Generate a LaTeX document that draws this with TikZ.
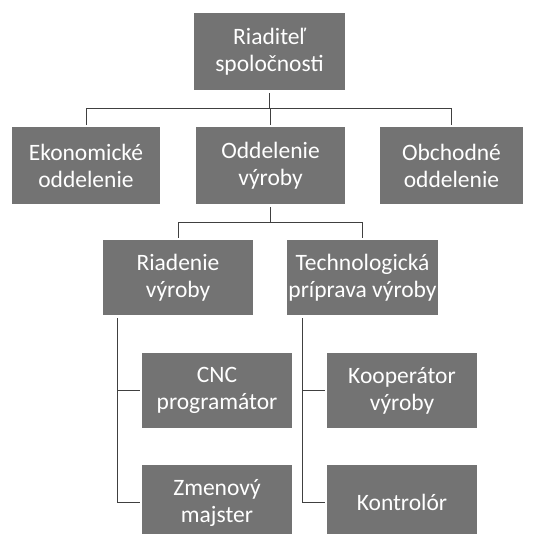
\documentclass[tikz,border=0pt]{standalone}
\usepackage{fontspec}
\setmainfont{Carlito}
\usepackage{tikz}
\usetikzlibrary{positioning}
\tikzset{x=1pt, y=-1pt, every node/.style={font=\fontsize{23.5}{27}\selectfont},
	unit/.style={fill=black!55, text=white, inner sep=0pt, align=center, minimum width=150pt, minimum height=76pt},
	link/.style={draw=black!75, line width=0.8pt, shorten <=3pt, shorten >=2pt}}

\begin{document}
\begin{tikzpicture}
	\clip (0,0) rectangle (542,534);
	\useasboundingbox (0,0) rectangle (542,534);
	\node[unit, minimum width=151pt, minimum height=77pt] at (269.5,51.5) (Riaditel) {Riaditeľ\\spoločnosti};
	\node[unit, minimum width=148pt, minimum height=77pt] at (86,165.5) (Ekonomicke) {Ekonomické\\oddelenie};
	\node[unit, minimum width=149pt, minimum height=77pt] at (270.5,165.5) (Vyroba) {Oddelenie\\výroby};
	\node[unit, minimum width=143pt, minimum height=77pt] at (451.5,165.5) (Obchodne) {Obchodné\\oddelenie};
	\node[unit, minimum height=75pt] at (178,277.5) (Riadenie) {Riadenie\\výroby};
	\node[unit, minimum width=151pt, minimum height=75pt] at (362.5,277.5) (Technologia) {Technologická\\príprava výroby};
	\node[unit, minimum height=75pt] at (217,390.5) (CNC) {CNC\\programátor};
	\node[unit, minimum height=75pt] at (217,502.5) (Zmenovy) {Zmenový\\majster};
	\node[unit, minimum height=75pt] at (402,390.5) (Kooperator) {Kooperátor\\výroby};
	\node[unit, minimum height=75pt] at (402,502.5) (Kontrolor) {Kontrolór};
	% first level
	\draw[link] (Riaditel.south) -- ++(0,18) -| (Ekonomicke.north);
	\draw[link] (Riaditel.south) -- ++(0,18) -| (Vyroba.north);
	\draw[link] (Riaditel.south) -- ++(0,18) -| (Obchodne.north);
	% second level
	\draw[link] (Vyroba.south) -- ++(0,18) -| (Riadenie.north);
	\draw[link] (Vyroba.south) -- ++(0,18) -| (Technologia.north);
	% third level
	\draw[link] ([xshift=-61pt]Riadenie.south) |- (CNC.west);
	\draw[link] ([xshift=-61pt]Riadenie.south) |- (Zmenovy.west);
	\draw[link] ([xshift=-60.5pt]Technologia.south) |- (Kooperator.west);
	\draw[link] ([xshift=-60.5pt]Technologia.south) |- (Kontrolor.west);
\end{tikzpicture}
\end{document}
